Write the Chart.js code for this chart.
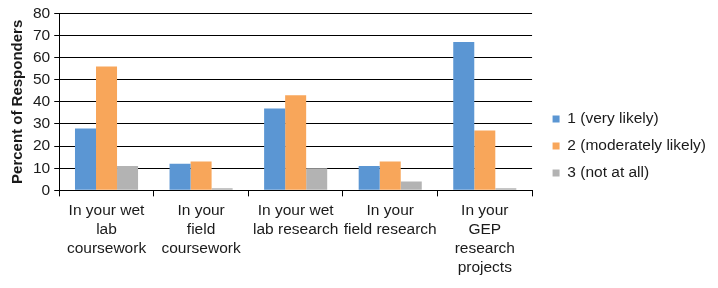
<!DOCTYPE html>
<html>
<head>
<meta charset="utf-8">
<script src="https://cdn.jsdelivr.net/npm/chart.js@4"></script>
<style>
    body { margin: 0; background: #fff; }
    #wrap { width: 718px; height: 288px; }
</style>
</head>
<body>
<div id="wrap"><canvas id="likelyChart"></canvas></div>
<script>
const categories = [
    ['In your wet', 'lab', 'coursework'],
    ['In your', 'field', 'coursework'],
    ['In your wet', 'lab research'],
    ['In your', 'field research'],
    ['In your', 'GEP', 'research', 'projects']
];
const veryLikely = [28, 12, 37, 11, 67];
const moderatelyLikely = [56, 13, 43, 13, 27];
const notAtAll = [11, 1, 10, 4, 1];
const yTicks = [0, 10, 20, 30, 40, 50, 60, 70, 80];

const FONT = '"Liberation Sans", Arial, sans-serif';
const TEXT = '#1a1a1a';
const LEGEND_GAP = 9;

// leaves some empty room between the plot area and the legend
const legendGap = {
    id: 'legendGap',
    beforeLayout(chart) {
        const legend = chart.legend;
        if (!legend || legend._gapPatched) return;
        const fit = legend.fit.bind(legend);
        legend.fit = function() {
            fit();
            this.width += LEGEND_GAP;
        };
        legend._gapPatched = true;
    },
    afterLayout(chart) {
        const legend = chart.legend;
        if (!legend) return;
        legend.left += LEGEND_GAP;
        legend.width -= LEGEND_GAP;
    }
};

document.addEventListener('DOMContentLoaded', function() {
    const ctx = document.getElementById('likelyChart').getContext('2d');

    new Chart(ctx, {
        type: 'bar',
        data: {
            labels: categories,
            datasets: [
                { label: '1 (very likely)', data: veryLikely, backgroundColor: '#5B96D3' },
                { label: '2 (moderately likely)', data: moderatelyLikely, backgroundColor: '#F8A65A' },
                { label: '3 (not at all)', data: notAtAll, backgroundColor: '#B3B3B3' }
            ]
        },
        options: {
            responsive: true,
            maintainAspectRatio: false,
            animation: false,
            layout: {
                padding: { top: 10, right: 2, bottom: 6, left: 9 }
            },
            datasets: {
                bar: { barPercentage: 1, categoryPercentage: 0.667 }
            },
            plugins: {
                tooltip: { enabled: false },
                legend: {
                    position: 'right',
                    labels: {
                        boxWidth: 7,
                        boxHeight: 7,
                        padding: 11.5,
                        color: TEXT,
                        font: { family: FONT, size: 15.5 }
                    }
                }
            },
            scales: {
                x: {
                    grid: {
                        drawOnChartArea: false,
                        drawTicks: true,
                        tickLength: 6,
                        color: '#000'
                    },
                    border: { color: '#000', width: 1 },
                    ticks: {
                        color: TEXT,
                        maxRotation: 0,
                        autoSkip: false,
                        padding: 5,
                        font: { family: FONT, size: 15.5, lineHeight: 1.22 }
                    }
                },
                y: {
                    min: 0,
                    max: 80,
                    afterBuildTicks: function(axis) {
                        axis.ticks = yTicks.map(v => ({ value: v }));
                    },
                    grid: {
                        color: '#000',
                        tickLength: 5
                    },
                    border: { color: '#000', width: 1 },
                    ticks: {
                        color: TEXT,
                        padding: 4,
                        font: { family: FONT, size: 15.5 }
                    },
                    title: {
                        display: true,
                        text: 'Percent of Responders',
                        color: TEXT,
                        padding: { top: 0, bottom: 2 },
                        font: { family: FONT, size: 15, weight: 'bold' }
                    }
                }
            }
        },
        plugins: [legendGap]
    });
});
</script>
</body>
</html>
